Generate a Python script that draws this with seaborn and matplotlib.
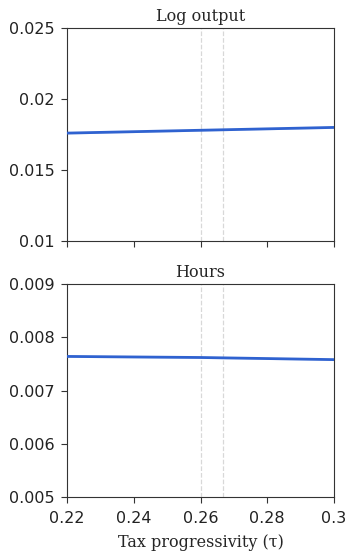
import numpy as np
import pandas as pd
import matplotlib
matplotlib.use("Agg")
import matplotlib.pyplot as plt
import seaborn as sns

# tax progressivity grid and responses
tau = [0.22, 0.24, 0.26, 0.28, 0.30]
log_output = [0.01760, 0.01770, 0.01780, 0.01790, 0.01800]
hours = [0.00764, 0.00763, 0.00762, 0.00760, 0.00758]

# reference lines (benchmark values)
vlines = [0.26, 0.2667]

panels = [
    ("Log output", log_output, (0.01, 0.025), [0.01, 0.015, 0.02, 0.025], ["0.01", "0.015", "0.02", "0.025"]),
    ("Hours", hours, (0.005, 0.009), [0.005, 0.006, 0.007, 0.008, 0.009], ["0.005", "0.006", "0.007", "0.008", "0.009"]),
]

sns.set_style("white")
plt.rcParams['font.family'] = ['DejaVu Sans']

fig = plt.figure(figsize=(3.48, 5.52), dpi=100)
boxes = [[0.1925, 0.5634, 0.7675, 0.3858], [0.1925, 0.0996, 0.7675, 0.3859]]

for box, (title, vals, ylim, yt, ytl) in zip(boxes, panels):
    ax = fig.add_axes(box)
    df = pd.DataFrame({'tau': tau, 'val': vals})
    for v in vlines:
        ax.axvline(v, color='#d8d8d8', linestyle='--', linewidth=0.9, zorder=1)
    sns.lineplot(data=df, x='tau', y='val', color='#2f62d0', linewidth=2, ax=ax, zorder=3)
    ax.fill_between(tau, np.array(vals) - (ylim[1] - ylim[0]) * 0.004,
                    np.array(vals) + (ylim[1] - ylim[0]) * 0.004,
                    color='#2f62d0', alpha=0.15, linewidth=0, zorder=2)
    ax.set_xlim(0.22, 0.30)
    ax.set_ylim(*ylim)
    ax.set_yticks(yt)
    ax.set_yticklabels(ytl)
    ax.set_xticks([0.22, 0.24, 0.26, 0.28, 0.30])
    ax.set_title(title, family='DejaVu Serif', fontsize=11.5, pad=5)
    ax.set_ylabel('')
    ax.set_xlabel('')
    for s in ax.spines.values():
        s.set_color('#333333')
        s.set_linewidth(0.8)
    ax.tick_params(axis='both', direction='out', length=4, width=0.8, color='#333333',
                   labelsize=11.5, labelcolor='#222222', left=True, bottom=True, pad=5)
    ax.tick_params(axis='x', pad=6)
    if title == "Log output":
        ax.set_xticklabels([])
    else:
        ax.set_xticklabels(["0.22", "0.24", "0.26", "0.28", "0.3"])
        ax.set_xlabel("Tax progressivity (τ)", family='DejaVu Serif', fontsize=11.5, labelpad=6)

fig.savefig("out.png", dpi=100)
